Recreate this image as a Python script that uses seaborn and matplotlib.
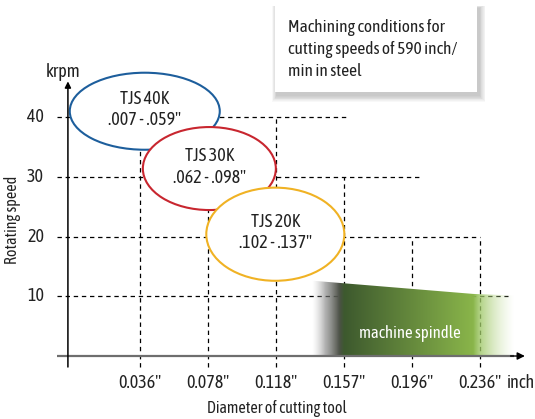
import matplotlib
import numpy as np
import pandas as pd

matplotlib.use("Agg")
import matplotlib.pyplot as plt
import seaborn as sns
from matplotlib.patches import Ellipse, Polygon, Rectangle

# ---- chart data -------------------------------------------------------------
diameters = ['0.036"', '0.078"', '0.118"', '0.157"', '0.196"', '0.236"']
speed_ticks = [40, 30, 20, 10]
# dashed guides: each speed level runs right to this diameter position,
# each diameter column runs up to this speed
level_ends = [4.06, 5.12, 6.0, 6.41]
column_tops = [40, 40, 40, 30, 20, 20]

models = ["TJS 40K", "TJS 30K", "TJS 20K"]
model_ranges = ['.007 - .059"', '.062 - .098"', '.102 - .137"']
model_speed = [41.0, 31.4, 20.4]        # krpm at the centre of each zone
model_diam = [1.07, 2.02, 2.99]         # diameter position of each zone
model_colors = ["#1d5e9c", "#c8262f", "#f0b224"]

spindle_x = [3.5, 3.5, 5.9, 6.6, 6.6]
spindle_y = [0, 12.65, 10.4, 10.1, 0]

note = "Machining conditions for\ncutting speeds of 590 inch/\nmin in steel"

# ---- figure -----------------------------------------------------------------
sns.set_theme(style="white")
plt.rcParams["font.family"] = ["Asap Condensed", "PT Sans Narrow", "DejaVu Sans"]
INK = "#222222"
BIG = 13

fig = plt.figure(figsize=(5.35, 4.19), dpi=100)
ax = fig.add_axes([0, 0, 1, 1])
ax.axis("off")

# dashed staircase grid
segs = []
for i, (lvl, end) in enumerate(zip(speed_ticks, level_ends)):
    segs += [(f"h{i}", -0.22, lvl), (f"h{i}", end, lvl)]
for i, top in enumerate(column_tops):
    segs += [(f"v{i}", i + 1, -1.84), (f"v{i}", i + 1, top)]
grid = pd.DataFrame(segs, columns=["seg", "x", "y"])
sns.lineplot(data=grid, x="x", y="y", units="seg", estimator=None, sort=False,
             color="black", lw=0.9, linestyle=(0, (3.5, 3)), ax=ax, zorder=1)

# machine spindle: gradient clipped to its outline
clip = Polygon(np.column_stack([spindle_x, spindle_y]), closed=True,
               facecolor="none", edgecolor="none")
ax.add_patch(clip)
stops = np.array([3.53, 3.72, 3.93, 4.0, 5.9, 6.0, 6.5])
stop_rgba = np.array([
    [0.75, 0.75, 0.75, 0.0],
    [0.50, 0.50, 0.50, 0.6],
    [0.30, 0.32, 0.28, 1.0],
    [0.24, 0.35, 0.18, 1.0],
    [0.54, 0.71, 0.29, 1.0],
    [0.62, 0.78, 0.40, 0.8],
    [0.82, 0.90, 0.70, 0.0],
])
xs = np.linspace(3.5, 6.6, 400)
grad = np.stack([np.interp(xs, stops, stop_rgba[:, k]) for k in range(4)], axis=-1)
im = ax.imshow(grad[None, :, :], extent=(3.5, 6.6, 0, 12.7), aspect="auto",
               interpolation="bilinear", zorder=3)
im.set_clip_path(clip)
ax.text(4.97, 3.85, "machine spindle", color="white", fontsize=12,
        ha="center", va="center", zorder=4)

# tool zones
for k, (name, rng, spd, dia, col) in enumerate(
        zip(models, model_ranges, model_speed, model_diam, model_colors)):
    w = [2.206, 1.956, 2.03][k]
    h = [12.9, 13.9, 15.6][k]
    ax.add_patch(Ellipse((dia, spd), w, h, facecolor="white", edgecolor=col,
                         lw=1.5, zorder=5 + 2 * k))
    ax.text(dia, spd + 0.3, f"{name}\n{rng}", ha="center", va="center",
            fontsize=BIG, linespacing=1.25, color=INK, zorder=6 + 2 * k)

# axes
ax.plot([-0.22, 6.5], [0, 0], color="#6e6e6e", lw=1.6, zorder=12,
        solid_capstyle="butt")
ax.annotate("", xy=(6.66, 0), xytext=(6.45, 0), zorder=13,
            arrowprops=dict(arrowstyle="-|>", color="black", lw=1.0,
                            mutation_scale=11, shrinkA=0, shrinkB=0))
ax.annotate("", xy=(-0.06, 46.0), xytext=(-0.06, -1.84), zorder=13,
            arrowprops=dict(arrowstyle="-|>", color="black", lw=1.1,
                            mutation_scale=9, shrinkA=0, shrinkB=0))

for v in speed_ticks:
    ax.text(-0.41, v, str(v), ha="right", va="center", fontsize=BIG, color=INK)
for i, lab in enumerate(diameters):
    ax.text(i + 1, -4.5, lab, ha="center", va="center", fontsize=BIG, color=INK)
ax.text(6.40, -4.5, "inch", ha="left", va="center", fontsize=BIG, color=INK)
ax.text(-0.13, 47.6, "krpm", ha="center", va="center", fontsize=BIG, color=INK)
ax.text(-0.868, 22.8, "Rotating speed", rotation=90, ha="center",
        va="center", fontsize=11.5, color=INK)
ax.text(3.01, -8.85, "Diameter of cutting tool", ha="center", va="center",
        fontsize=11.5, color=INK)

# note box with soft shadow
bx, by, bw, bh = 275 / 535, 1 - 92 / 419, 202 / 535, 87 / 419
for s in range(8, 0, -1):
    ax.add_patch(Rectangle((bx + (2 - s * 0.6) / 535, by - (3 + s * 0.9) / 419),
                           bw + (s * 1.4) / 535, bh + (s * 1.2) / 419,
                           transform=ax.transAxes, facecolor="black",
                           edgecolor="none", alpha=0.028, zorder=14))
ax.add_patch(Rectangle((bx, by), bw, bh, transform=ax.transAxes,
                       facecolor="white", edgecolor="none", zorder=15))
ax.text(288 / 535, 1 - 49.5 / 419, note, transform=ax.transAxes, ha="left",
        va="center", fontsize=12.5, linespacing=1.38, color=INK, zorder=16)

ax.set_xlim(-1.0588, 6.809)
ax.set_ylim(-10.55, 59.63)

fig.savefig("out.png", dpi=100, facecolor="white")
